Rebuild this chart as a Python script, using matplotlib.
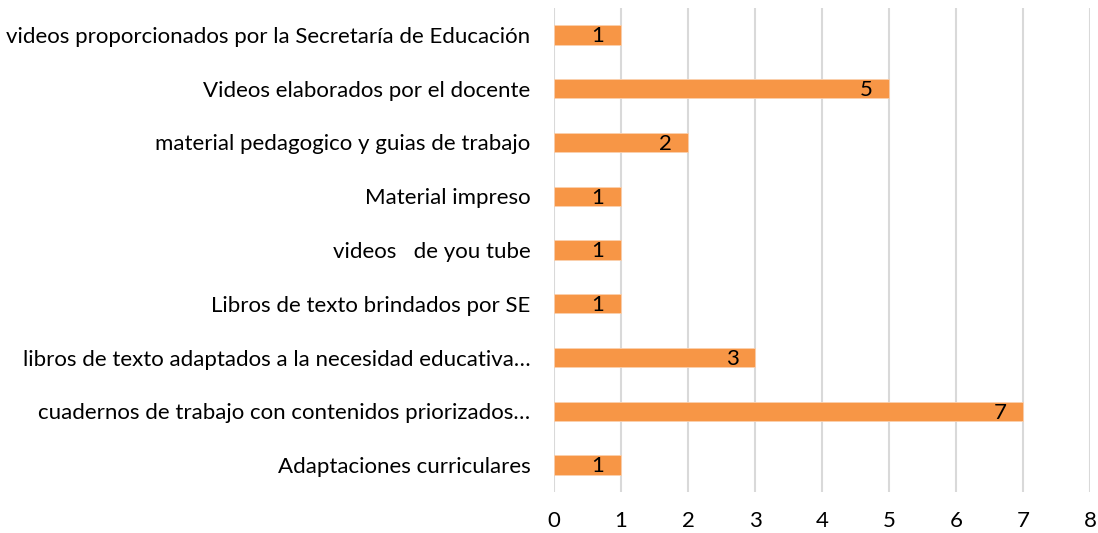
import numpy as np
from matplotlib import pyplot as plt

plt.rcParams['font.family'] = ['Lato', 'DejaVu Sans']

categorias = [
    "Adaptaciones curriculares",
    "cuadernos de trabajo con contenidos priorizados…",
    "libros de texto adaptados a la necesidad educativa…",
    "Libros de texto brindados por SE",
    "videos   de you tube",
    "Material impreso",
    "material pedagogico y guias de trabajo",
    "Videos elaborados por el docente",
    "videos proporcionados por la Secretaría de Educación",
]
valores = [1, 7, 3, 1, 1, 1, 2, 5, 1]

fig = plt.figure(figsize=(10.98, 5.33), dpi=100)
ax = fig.add_axes([0.5046, 0.077, 0.4882, 0.908])

pos = np.arange(len(categorias))
ax.barh(pos, valores, height=0.36, color='#F79646', edgecolor='#FAD0AE', linewidth=0.6, zorder=3)

for p, v in zip(pos, valores):
    ax.annotate(str(v), (v, p), xytext=(-12, -1), textcoords='offset points',
                ha='right', va='center', fontsize=16, color='black', zorder=4)

ax.set_xlim(0, 8)
ax.set_ylim(-0.5, len(categorias) - 0.5)
ax.set_xticks(range(0, 9))
ax.set_yticks(pos)
ax.set_yticklabels(categorias)
ax.grid(axis='x', color='#D9D9D9', linewidth=1.5, zorder=0)
ax.tick_params(axis='both', length=0, labelsize=16, colors='black')
ax.tick_params(axis='x', pad=14)
ax.tick_params(axis='y', pad=17)
for s in ax.spines.values():
    s.set_visible(False)

plt.savefig("out.png")
